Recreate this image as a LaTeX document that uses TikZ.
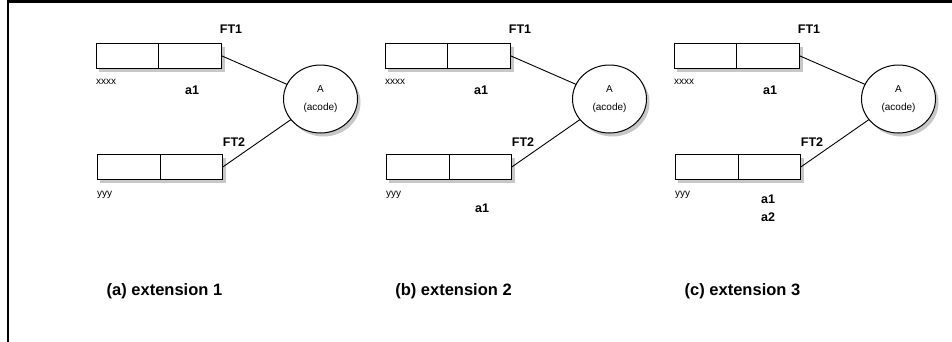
\documentclass[tikz,border=0pt]{standalone}
\usepackage{fontspec}
\setmainfont{Liberation Sans}
\usetikzlibrary{shadows,shapes.geometric}
\begin{document}
\begin{tikzpicture}[x=1pt,y=-1pt,
  boxshadow/.style={drop shadow={shadow xshift=3pt, shadow yshift=-3.5pt, fill=black!22, opacity=1}},
  cell/.style={draw, line width=1pt, fill=white, minimum width=125.5pt, minimum height=25pt,
    inner sep=0pt, outer sep=0pt, boxshadow,
    path picture={\draw[line width=1pt] (path picture bounding box.north) -- (path picture bounding box.south);}},
  actor/.style={ellipse, draw, line width=1pt, fill=white, minimum width=74pt, minimum height=68pt,
    inner sep=0pt, outer sep=0pt, boxshadow, align=center, font=\fontsize{10}{18}\selectfont},
  link/.style={line width=0.9pt},
  tag/.style={font=\bfseries\fontsize{12.5}{18}\selectfont, inner sep=0pt, align=center},
  small/.style={font=\fontsize{10}{12}\selectfont, inner sep=0pt},
  caption/.style={font=\bfseries\fontsize{16.5}{20}\selectfont, inner sep=0pt}]
\useasboundingbox (0,0) rectangle (952,341);
% outer frame
\draw[line width=2.5pt, line join=miter] (8,345) -- (8,1.3) -- (956,1.3);
\foreach \i/\lab in {0/a,1/b,2/c}{
  \begin{scope}[xshift=289*\i pt]
    \node[cell] (top\i) at (158.85,55.8) {};
    \node[cell] (bot\i) at (160,167) {};
    \node[actor] (act\i) at (320.5,99) {A\\(acode)};
    \draw[link] (top\i.east) -- (act\i);
    \draw[link] (bot\i.east) -- (act\i);
    \node[tag] (ftone\i) at (231,29) {FT1};
    \node[tag] (fttwo\i) at (234,142) {FT2};
    \node[tag] (aone\i) at (192,90) {a1};
    \node[small, anchor=west] (xx\i) at (96,82) {xxxx};
    \node[small, anchor=west] (yy\i) at (97,195) {yyy};
    \node[caption] (cap\i) at (164.5,291) {(\lab) extension \the\numexpr\i+1\relax};
  \end{scope}
}
\node[tag] (bexp) at (482,208) {a1};
\node[tag] (cexp) at (768,208) {a1\\a2};
\end{tikzpicture}
\end{document}
